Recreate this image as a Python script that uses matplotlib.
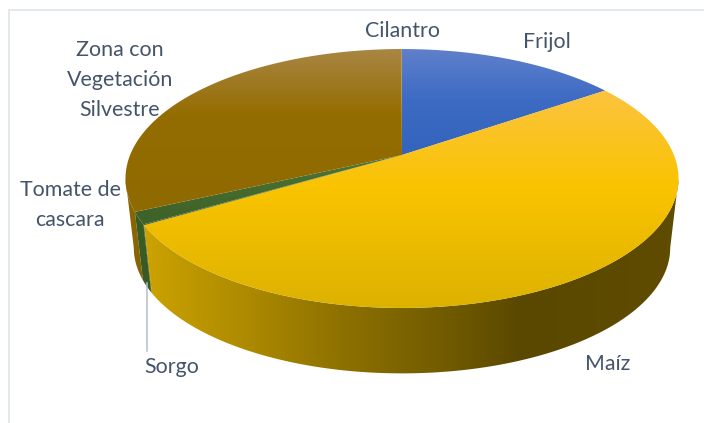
import numpy as np
import matplotlib
matplotlib.use('Agg')
from matplotlib import pyplot as plt
from matplotlib.colors import to_rgb
from matplotlib.patches import Polygon

categorias = ['Frijol', 'Maíz', 'Sorgo', 'Tomate de\ncascara', 'Zona con\nVegetación\nSilvestre', 'Cilantro']
valores = [15.4, 51.1, 0.1, 1.5, 31.85, 0.05]

# colores de cara superior: (y en pixel, color)
caras = [
    [(49, '#5f80cb'), (100, '#3d6bc4'), (150, '#3464bd')],
    [(90, '#fcc33f'), (190, '#f9c300'), (308, '#dcb200')],
    [(160, '#4f7536'), (215, '#3f6228')],
    [(160, '#4f7536'), (215, '#3f6228')],
    [(49, '#a98644'), (115, '#946d00'), (210, '#8f6a00')],
    [(49, '#a98644'), (115, '#946d00')],
]
# colores de pared: (x en pixel, color)
paredes = [
    [(0, '#3464bd'), (704, '#3464bd')],
    [(148, '#cba200'), (250, '#ac8900'), (350, '#8b6f00'), (450, '#705a00'), (520, '#5a4800'), (704, '#604d00')],
    [(0, '#34531f'), (704, '#34531f')],
    [(0, '#3a5a24'), (704, '#3a5a24')],
    [(0, '#8a6400'), (704, '#8a6400')],
    [(0, '#8a6400'), (704, '#8a6400')],
]

etiquetas_pos = [(547, 42), (608, 364), (172, 367), (70, 205), (120, 80), (402, 31)]

# perspectiva del circulo
cx, cy = 402, 155
A, B, c = 125.2, 271.9, 0.1815


def proy(th, escala=1.0, dy=0.0):
    u, v = np.sin(th), np.cos(th)
    x = cx + escala * B * u / (1 + c * v)
    y = cy + dy - escala * A * v / (1 + c * v)
    return x, y


def color_en(stops, t):
    pos = np.array([s[0] for s in stops], float)
    col = np.array([to_rgb(s[1]) for s in stops])
    return np.column_stack([np.interp(t, pos, col[:, i]) for i in range(3)])


def relleno(pts, img, z):
    im = ax.imshow(img, extent=(0, 704, 423, 0), aspect='auto', zorder=z)
    poly = Polygon(pts, closed=True, transform=ax.transData, fc='none', ec='none')
    ax.add_patch(poly)
    im.set_clip_path(poly)


fig = plt.figure(figsize=(7.04, 4.23), dpi=100)
ax = fig.add_axes([0, 0, 1, 1])

# marco del grafico
ax.plot([9, 9, 704], [423, 10, 10], color='#e3e8ec', lw=1.4, zorder=0)

cortes = np.cumsum([0] + valores) / sum(valores) * 2 * np.pi

# paredes laterales, desde el punto mas ancho hacia delante
frente = []
for i in range(len(valores)):
    th = np.linspace(cortes[i], cortes[i + 1], max(2, int((cortes[i + 1] - cortes[i]) * 400)))
    th = th[np.cos(th) < -c]
    if len(th) >= 2:
        frente.append((np.cos(th).mean(), i, th))
for _, i, th in sorted(frente, key=lambda f: -f[0]):
    x1, y1 = proy(th)
    x2, y2 = proy(th, 0.97, 70)
    pts = np.column_stack([np.r_[x1, x2[::-1]], np.r_[y1, y2[::-1]]])
    img = color_en(paredes[i], np.arange(704) + 0.5)[None, :, :]
    relleno(pts, img, 2)

# caras superiores con degradado vertical
for i in range(len(valores)):
    th = np.linspace(cortes[i], cortes[i + 1], max(2, int((cortes[i + 1] - cortes[i]) * 120)))
    x, y = proy(th)
    pts = np.column_stack([np.r_[cx, x], np.r_[cy, y]])
    relleno(pts, color_en(caras[i], np.arange(423) + 0.5)[:, None, :], 3)

# linea guia de Sorgo
ax.plot([147, 147], [283, 351], color='#b4bccb', lw=1.1, zorder=4)

for nombre, (x, y) in zip(categorias, etiquetas_pos):
    ax.text(x, y, nombre, ha='center', va='center', family='Lato', fontsize=15.4,
            color='#44546a', linespacing=1.6, zorder=5)

ax.set_xlim(0, 704)
ax.set_ylim(423, 0)
ax.axis('off')
fig.savefig('out.png', dpi=100, facecolor='white')
